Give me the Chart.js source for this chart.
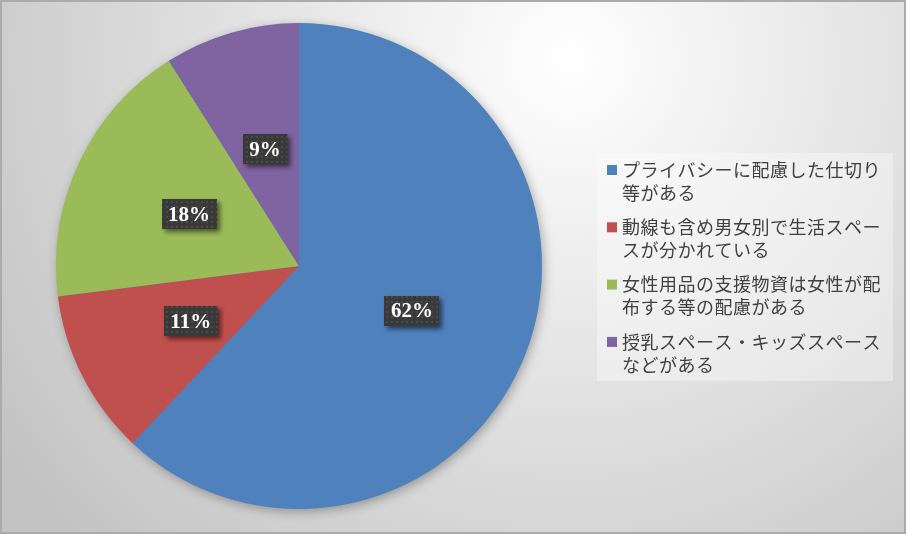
<!DOCTYPE html>
<html>
<head>
<meta charset="utf-8">
<script src="https://cdn.jsdelivr.net/npm/chart.js"></script>
<style>
  html, body { margin: 0; padding: 0; background: #fff; }
  canvas { display: block; }
</style>
</head>
<body>
<canvas id="pieChart" width="906" height="534"></canvas>
<script>
// Chart values
const categories = [
    ['プライバシーに配慮した仕切り', '等がある'],
    ['動線も含め男女別で生活スペー', 'スが分かれている'],
    ['女性用品の支援物資は女性が配', '布する等の配慮がある'],
    ['授乳スペース・キッズスペース', 'などがある']
];
const shares = [62, 11, 18, 9];
const sliceColors = ['#4F81BD', '#C0504D', '#9BBB59', '#8064A2'];

// Background with radial gradient and thin frame
const backgroundPlugin = {
    id: 'background',
    beforeDraw(chart) {
        let ctx = chart.ctx;
        let w = chart.width, h = chart.height;
        ctx.save();
        let grad = ctx.createRadialGradient(570, 60, 0, 570, 60, 700);
        grad.addColorStop(0, '#ffffff');
        grad.addColorStop(1, '#c2c2c2');
        ctx.fillStyle = grad;
        ctx.fillRect(0, 0, w, h);
        ctx.strokeStyle = '#ababab';
        ctx.lineWidth = 2;
        ctx.strokeRect(1, 1, w - 2, h - 2);
        ctx.restore();
    }
};

// Soft shadow under the whole pie
const pieShadowPlugin = {
    id: 'pieShadow',
    beforeDatasetsDraw(chart) {
        let arc = chart.getDatasetMeta(0).data[0];
        if (!arc) return;
        let ctx = chart.ctx;
        ctx.save();
        ctx.shadowColor = 'rgba(0, 0, 0, 0.35)';
        ctx.shadowBlur = 12;
        ctx.shadowOffsetX = 2;
        ctx.shadowOffsetY = 3;
        ctx.fillStyle = sliceColors[0];
        ctx.beginPath();
        ctx.arc(arc.x, arc.y, arc.outerRadius - 1, 0, Math.PI * 2);
        ctx.fill();
        ctx.restore();
    }
};

// Dark dotted boxes with percentage labels
function makeDotPattern(ctx) {
    let p = document.createElement('canvas');
    p.width = 5;
    p.height = 5;
    let pc = p.getContext('2d');
    pc.fillStyle = '#393939';
    pc.fillRect(0, 0, 5, 5);
    pc.fillStyle = '#4a4a4a';
    pc.fillRect(1, 1, 2, 2);
    return ctx.createPattern(p, 'repeat');
}

const labelPlugin = {
    id: 'pctLabels',
    afterDatasetsDraw(chart) {
        let ctx = chart.ctx;
        let meta = chart.getDatasetMeta(0);
        let values = chart.data.datasets[0].data;
        let total = values.reduce((a, b) => a + b, 0);
        let pattern = makeDotPattern(ctx);
        ctx.save();
        ctx.font = 'bold 21px "Liberation Serif", "DejaVu Serif", serif';
        ctx.textAlign = 'center';
        ctx.textBaseline = 'middle';
        meta.data.forEach((arc, i) => {
            let pos = arc.tooltipPosition();
            let text = Math.round(values[i] / total * 100) + '%';
            let tw = ctx.measureText(text).width;
            let bw = tw + 13, bh = 30;
            ctx.save();
            ctx.shadowColor = 'rgba(0, 0, 0, 0.55)';
            ctx.shadowBlur = 5;
            ctx.shadowOffsetX = 3;
            ctx.shadowOffsetY = 3;
            ctx.fillStyle = pattern;
            ctx.fillRect(Math.round(pos.x - bw / 2), Math.round(pos.y - bh / 2), bw, bh);
            ctx.restore();
            ctx.fillStyle = '#ffffff';
            ctx.fillText(text, pos.x, pos.y + 1);
        });
        ctx.restore();
    }
};

// Legend on the right with wrapped labels
const sideLegendPlugin = {
    id: 'sideLegend',
    afterDraw(chart) {
        let ctx = chart.ctx;
        ctx.save();
        ctx.fillStyle = 'rgba(255, 255, 255, 0.35)';
        ctx.fillRect(597, 153, 296, 228);
        ctx.font = '18px "Noto Sans CJK JP", sans-serif';
        ctx.letterSpacing = '0.5px';
        ctx.textAlign = 'left';
        ctx.textBaseline = 'middle';
        let top = 170, step = 57.3, lineH = 23;
        categories.forEach((lines, i) => {
            let y = top + i * step;
            ctx.fillStyle = sliceColors[i];
            ctx.fillRect(607, y - 5, 10, 10);
            ctx.fillStyle = '#404040';
            lines.forEach((line, j) => {
                ctx.fillText(line, 622, y + j * lineH);
            });
        });
        ctx.restore();
    }
};

let ctxPie = document.getElementById('pieChart');
let pieChart = new Chart(ctxPie, {
    type: 'pie',
    data: {
        labels: categories.map(l => l.join('')),
        datasets: [{
            data: shares,
            backgroundColor: sliceColors,
            borderWidth: 0,
            hoverOffset: 0
        }]
    },
    options: {
        responsive: false,
        maintainAspectRatio: false,
        animation: false,
        events: [],
        layout: {
            padding: { left: 56, right: 364, top: 23, bottom: 25 }
        },
        plugins: {
            legend: { display: false },
            tooltip: { enabled: false },
            title: { display: false }
        }
    },
    plugins: [backgroundPlugin, pieShadowPlugin, labelPlugin, sideLegendPlugin]
});
</script>
</body>
</html>
